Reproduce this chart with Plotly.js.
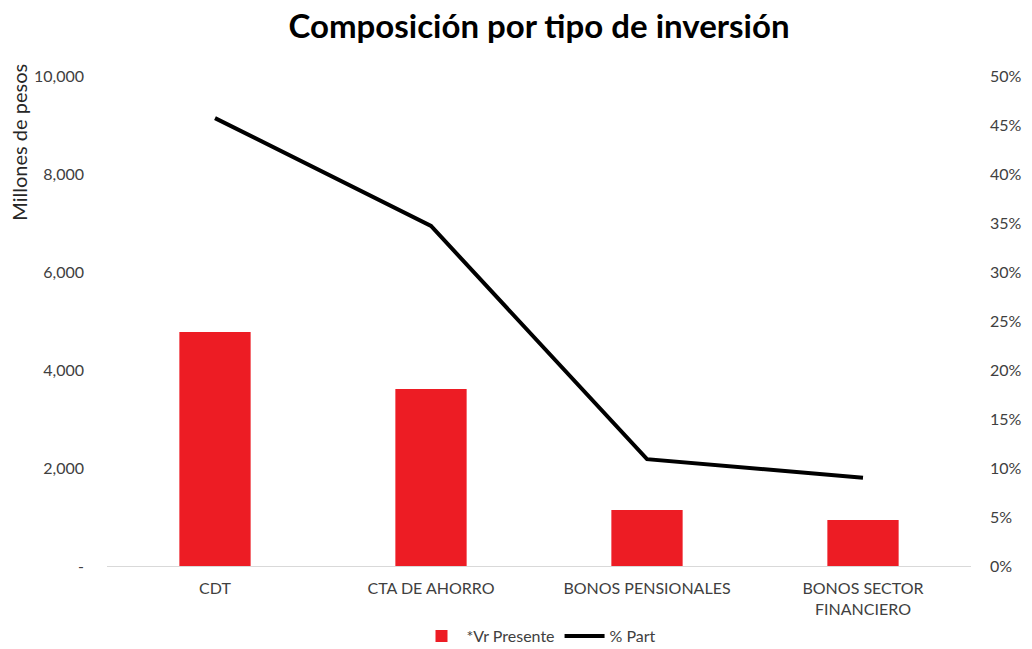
<!DOCTYPE html>
<html><head><meta charset="utf-8">
<script src="https://cdn.plot.ly/plotly-3.0.1.min.js"></script>
<style>html,body{margin:0;padding:0;background:#fff;}#chart{width:1032px;height:649px;}</style>
</head><body><div id="chart"></div>
<script>
const categories = ["CDT", "CTA DE AHORRO", "BONOS PENSIONALES", "BONOS SECTOR<br>FINANCIERO"];
const vrPresente = [4776, 3612, 1143, 939];
const pctPart = [0.457, 0.347, 0.109, 0.090];
const leftTickVals = [0, 2000, 4000, 6000, 8000, 10000];
const leftTickText = ["-", "2,000", "4,000", "6,000", "8,000", "10,000"];

const font = "Lato, 'DejaVu Sans', sans-serif";
const traces = [
  {type: "bar", name: "*Vr Presente", x: categories, y: vrPresente,
   marker: {color: "#ED1C24"}, yaxis: "y"},
  {type: "scatter", mode: "lines", name: "% Part", x: categories, y: pctPart,
   line: {color: "#000000", width: 4}, yaxis: "y2"}
];
const layout = {
  width: 1032, height: 649,
  margin: {l: 107, r: 61, t: 76, b: 83, autoexpand: false},
  paper_bgcolor: "#fff", plot_bgcolor: "#fff",
  title: {text: "<b>Composición por tipo de inversión</b>", x: 0.5, xref: "paper", y: 0.96, yanchor: "middle",
          font: {family: font, size: 33, color: "#000"}},
  bargap: 0.67,
  showlegend: true,
  legend: {orientation: "h", x: 0.5, xanchor: "center", y: -0.143, yanchor: "middle",
           font: {family: font, size: 16, color: "#404040"}, traceorder: "normal", itemwidth: 40},
  xaxis: {showgrid: false, showline: true, linecolor: "#D9D9D9", linewidth: 1, ticks: "",
          tickfont: {family: font, size: 16, color: "#404040"}, ticklabelstandoff: 8},
  yaxis: {range: [0, 10000], tickvals: leftTickVals, ticktext: leftTickText, showgrid: false,
          zeroline: false, showline: false, ticks: "", ticklabelstandoff: 22,
          tickfont: {family: font, size: 16, color: "#404040"}},
  yaxis2: {range: [0, 0.5], overlaying: "y", side: "right", dtick: 0.05, tickformat: ".0%",
           showgrid: false, zeroline: false, showline: false, ticks: "", ticklabelstandoff: 18,
           tickfont: {family: font, size: 16, color: "#404040"}},
  annotations: [{text: "Millones de pesos", xref: "paper", yref: "paper", x: -0.102, y: 1.03,
                 xanchor: "center", yanchor: "top", textangle: -90, showarrow: false,
                 font: {family: font, size: 20, color: "#262626"}}]
};
Plotly.newPlot("chart", traces, layout, {displayModeBar: false});
</script></body></html>
